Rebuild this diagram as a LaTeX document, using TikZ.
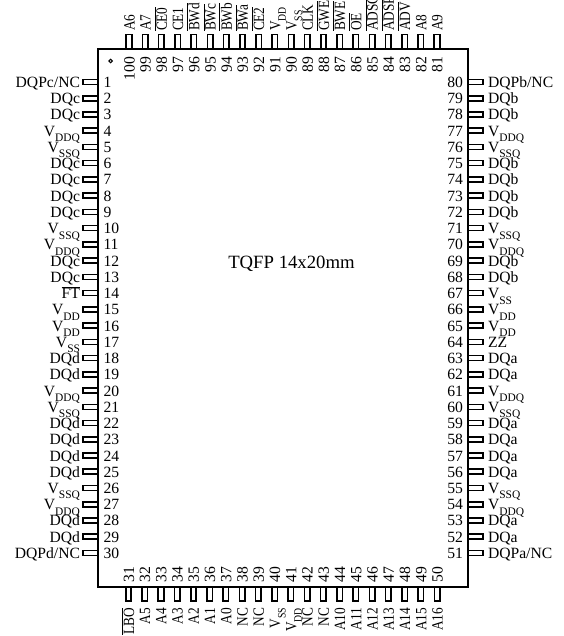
\documentclass[tikz,border=0pt]{standalone}
\usepackage{graphicx}
\usepackage{fontspec}
\setmainfont{Liberation Serif}
\newcommand\ovl[1]{\leavevmode\setbox0\hbox{#1}\rlap{\rule[\dimexpr\ht0+0.9pt\relax]{\wd0}{0.7pt}}\box0}
\newcommand\subt[2]{#1\raisebox{-5.5pt}{\fontsize{11.5}{12}\selectfont #2}}
\newcommand\VDDQ{\subt{V}{DDQ}}
\newcommand\VSSQ{\subt{V}{SSQ}}
\newcommand\VDD{\subt{V}{DD}}
\newcommand\VSS{\subt{V}{SS}}
\newcommand\narrowlab[1]{\scalebox{0.85}[1]{#1}}
\tikzset{
  chip/.style={draw=black,line width=1.8pt,minimum width=369.7bp,minimum height=538bp,inner sep=0pt,outer sep=0pt},
  pinh/.style={draw=black,line width=1.6pt,minimum width=15.5bp,minimum height=5bp,inner sep=0pt,outer sep=0pt},
  pinv/.style={draw=black,line width=1.6pt,minimum width=5.5bp,minimum height=14bp,inner sep=0pt,outer sep=0pt},
  lab/.style={inner sep=0pt,outer sep=0pt,font=\fontsize{15.7}{18}\selectfont},
  dot1/.style={draw=black,line width=1pt,circle,minimum size=3.5bp,inner sep=0pt},
}
\begin{document}
\begin{tikzpicture}[x=1bp,y=-1bp]
\useasboundingbox (0,0) rectangle (564,636);
% left side
\foreach \n/\t in {1/{DQPc/NC},2/DQc,3/DQc,4/\VDDQ,5/\VSSQ,6/DQc,7/DQc,8/DQc,9/DQc,10/\VSSQ,11/\VDDQ,12/DQc,13/DQc,14/{\ovl{FT}},15/\VDD,16/\VDD,17/\VSS,18/DQd,19/DQd,20/\VDDQ,21/\VSSQ,22/DQd,23/DQd,24/DQd,25/DQd,26/\VSSQ,27/\VDDQ,28/DQd,29/DQd,30/{DQPd/NC}}{
  \pgfmathsetmacro\py{82+16.24*(\n-1)}
  \node[pinh] (p\n) at (90.5,\py) {};
  \node[lab,anchor=base east] (l\n) at (80,\py+5.5) {\t};
  \node[lab,anchor=base west] (n\n) at (103.5,\py+5.5) {\n};
}
% right side
\foreach \n/\t in {80/{DQPb/NC},79/DQb,78/DQb,77/\VDDQ,76/\VSSQ,75/DQb,74/DQb,73/DQb,72/DQb,71/\VSSQ,70/\VDDQ,69/DQb,68/DQb,67/\VSS,66/\VDD,65/\VDD,64/ZZ,63/DQa,62/DQa,61/\VDDQ,60/\VSSQ,59/DQa,58/DQa,57/DQa,56/DQa,55/\VSSQ,54/\VDDQ,53/DQa,52/DQa,51/{DQPa/NC}}{
  \pgfmathsetmacro\py{82+16.24*(80-\n)}
  \node[pinh] (p\n) at (475.5,\py) {};
  \node[lab,anchor=base west] (l\n) at (488,\py+5.5) {\t};
  \node[lab,anchor=base east] (n\n) at (463,\py+5.5) {\n};
}
% top side
\foreach \n/\t in {100/A6,99/A7,98/{\ovl{CE0}},97/CE1,96/{\ovl{BWd}},95/{\ovl{BWc}},94/{\ovl{BWb}},93/{\ovl{BWa}},92/{\ovl{CE2}},91/\VDD,90/\VSS,89/CLK,88/{\ovl{GWE}},87/{\ovl{BWE}},86/{\ovl{OE}},85/{\ovl{ADSC}},84/{\ovl{ADSP}},83/{\ovl{ADV}},82/A8,81/A9}{
  \pgfmathsetmacro\px{129+16.21*(100-\n)}
  \node[pinv] (p\n) at (\px,41.5) {};
  \node[lab,rotate=90,anchor=base west] (l\n) at (\px+5.5,31) {\narrowlab{\t}};
  \node[lab,rotate=90,anchor=base east] (n\n) at (\px+5.5,57) {\n};
}
% bottom side
\foreach \n/\t in {31/{\ovl{LBO}},32/A5,33/A4,34/A3,35/A2,36/A1,37/A0,38/NC,39/NC,40/\VSS,41/\VDD,42/NC,43/NC,44/A10,45/A11,46/A12,47/A13,48/A14,49/A15,50/A16}{
  \pgfmathsetmacro\px{128.5+16.24*(\n-31)}
  \node[pinv] (p\n) at (\px,594) {};
  \node[lab,rotate=90,anchor=base east] (l\n) at (\px+5.5,608) {\narrowlab{\t}};
  \node[lab,rotate=90,anchor=base east] (n\n) at (\px+5.5,567) {\n};
}
\node[chip] (body) at (282.85,317.7) {};
\node[dot1] (pinone) at (110.7,61) {};
\node[lab,font=\fontsize{18.8}{20}\selectfont] (title) at (291.5,264) {TQFP 14x20mm};
\end{tikzpicture}
\end{document}
